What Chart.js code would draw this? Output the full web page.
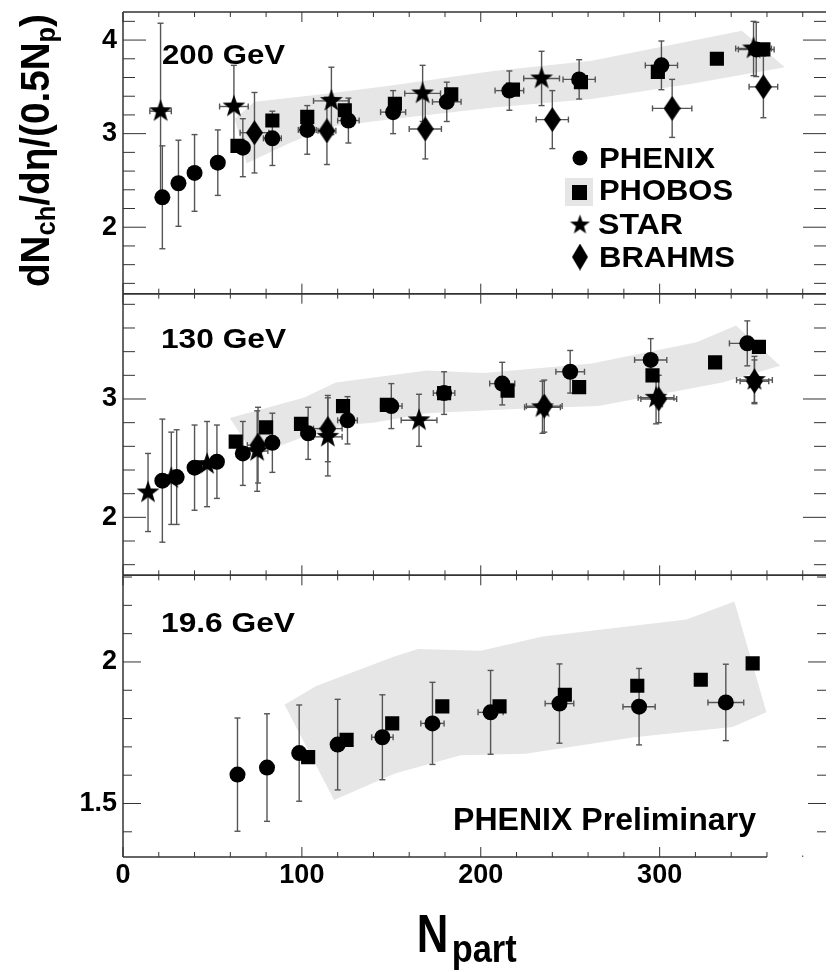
<!DOCTYPE html>
<html>
<head>
<meta charset="utf-8">
<script src="https://cdn.jsdelivr.net/npm/chart.js@4/dist/chart.umd.min.js"></script>
<style>
html,body{margin:0;padding:0;background:#fff;}
#wrap{width:838px;height:972px;position:relative;}
</style>
</head>
<body>
<div id="wrap"><canvas id="c" width="838" height="972"></canvas></div>
<script>
// ---------------- tick labels ----------------
const xMajorTicks = [0, 100, 200, 300];
const yTicks200 = [2, 3, 4];
const yTicks130 = [2, 3];
const yTicks19 = [1.5, 2];

// ---------------- 200 GeV ----------------
const phenix200_npart = [22, 31, 40, 53, 67, 83.5, 103, 126, 151, 181, 216, 255, 301, 354];
const phenix200_val   = [2.32, 2.47, 2.58, 2.69, 2.85, 2.95, 3.04, 3.14, 3.23, 3.34, 3.46, 3.58, 3.73, 3.90];
const phenix200_errY  = [0.55, 0.46, 0.41, 0.35, 0.31, 0.29, 0.26, 0.24, 0.23, 0.21, 0.21, 0.21, 0.26, 0.29];
const phenix200_errX  = [0, 0, 0, 0, 0, 5, 5, 6, 7, 8, 8, 9, 9, 10];

const phobos200_npart = [64, 83.5, 103, 124, 152, 183.5, 218, 256, 299, 332, 358];
const phobos200_val   = [2.87, 3.14, 3.18, 3.25, 3.32, 3.42, 3.47, 3.55, 3.66, 3.80, 3.90];

const star200_npart = [21, 62, 116.5, 167.5, 234, 352.5];
const star200_val   = [3.24, 3.29, 3.35, 3.43, 3.59, 3.91];
const star200_errY  = [0.94, 0.44, 0.36, 0.30, 0.29, 0.29];
const star200_errX  = [6, 8, 10, 10, 10, 10];

const brahms200_npart = [73.5, 114, 169, 240, 307, 358];
const brahms200_val   = [3.01, 3.03, 3.05, 3.15, 3.27, 3.50];
const brahms200_errY  = [0.43, 0.36, 0.32, 0.31, 0.31, 0.33];
const brahms200_errX  = [8, 5, 9, 9, 11, 8];

const band200_npart = [62.5, 73.5, 115, 152, 207, 262, 346, 370, 317, 262, 207, 152, 115, 92, 69];
const band200_val   = [3.16, 3.34, 3.43, 3.52, 3.67, 3.78, 4.10, 3.71, 3.53, 3.37, 3.28, 3.16, 3.07, 2.89, 2.68];

// ---------------- 130 GeV ----------------
const phenix130_npart = [22, 30, 40, 52.5, 67, 83.5, 103.5, 125.5, 150, 179.5, 212, 250, 295, 349];
const phenix130_val   = [2.31, 2.34, 2.42, 2.47, 2.54, 2.63, 2.71, 2.82, 2.94, 3.05, 3.13, 3.23, 3.33, 3.47];
const phenix130_errY  = [0.52, 0.40, 0.36, 0.31, 0.27, 0.25, 0.22, 0.20, 0.19, 0.18, 0.18, 0.18, 0.18, 0.19];
const phenix130_errX  = [0, 0, 0, 0, 0, 0, 4, 5.5, 6, 6, 7, 8, 9, 10];

const phobos130_npart = [63, 80, 99.5, 123, 147.5, 179.5, 215, 255, 296, 331, 355.5];
const phobos130_val   = [2.64, 2.76, 2.79, 2.94, 2.95, 3.05, 3.07, 3.10, 3.20, 3.31, 3.44];

const star130_npart = [14, 27, 47, 75, 114.5, 165.5, 234.5, 298, 353];
const star130_val   = [2.21, 2.33, 2.45, 2.56, 2.68, 2.82, 2.93, 3.01, 3.16];
const star130_errY  = [0.33, 0.39, 0.36, 0.34, 0.33, 0.22, 0.22, 0.22, 0.20];
const star130_errX  = [0, 0, 0, 6, 8, 10, 10, 10, 10];

const brahms130_npart = [75.5, 114.5, 235.5, 299.5, 353];
const brahms130_val   = [2.61, 2.75, 2.94, 3.00, 3.15];
const brahms130_errY  = [0.32, 0.28, 0.22, 0.20, 0.18];
const brahms130_errX  = [6, 8, 10, 10, 8];

const band130_npart = [59.7, 101, 119, 170, 201.6, 262, 320.7, 342.7, 367.4, 335, 265.8, 225, 170, 140, 123, 101, 73.5];
const band130_val   = [2.84, 3.01, 3.14, 3.24, 3.22, 3.30, 3.48, 3.62, 3.28, 3.14, 2.94, 2.92, 2.88, 2.80, 2.78, 2.68, 2.52];

// ---------------- 19.6 GeV ----------------
const phenix19_npart = [64, 80.5, 98.5, 120, 145, 173, 205.5, 244, 288.5, 337];
const phenix19_val   = [1.602, 1.627, 1.678, 1.708, 1.734, 1.783, 1.822, 1.853, 1.842, 1.857];
const phenix19_errY  = [0.20, 0.19, 0.17, 0.16, 0.15, 0.145, 0.148, 0.14, 0.135, 0.135];
const phenix19_errX  = [0, 0, 2, 3, 6, 6.5, 7, 8, 9, 10];

const phobos19_npart = [103.5, 125, 150.5, 178.5, 210.5, 247, 287.5, 323, 352];
const phobos19_val   = [1.664, 1.725, 1.783, 1.843, 1.843, 1.884, 1.916, 1.937, 1.995];

const band19_npart = [90.3, 108, 152, 165, 200, 234.6, 315, 341.8, 359.7, 340.7, 285.7, 225, 188.8, 152, 118];
const band19_val   = [1.849, 1.915, 2.02, 2.046, 2.04, 2.09, 2.15, 2.214, 1.822, 1.77, 1.734, 1.676, 1.67, 1.606, 1.512];

// ---------------- styling / drawing ----------------
const FONT = '"Liberation Sans", Arial, Helvetica, sans-serif';
const BAND_COLOR = '#e6e6e6';

function makeStar(outer, inner) {
  const s = Math.ceil(outer * 2 + 2);
  const c = document.createElement('canvas'); c.width = s; c.height = s;
  const g = c.getContext('2d'); g.fillStyle = '#000'; g.beginPath();
  for (let k = 0; k < 10; k++) {
    const a = -Math.PI / 2 + k * Math.PI / 5, r = k % 2 ? inner : outer;
    const px = s / 2 + r * Math.cos(a), py = s / 2 + r * Math.sin(a);
    k ? g.lineTo(px, py) : g.moveTo(px, py);
  }
  g.closePath(); g.fill();
  return c;
}
function makeDiamond(w, h) {
  const c = document.createElement('canvas'); c.width = w; c.height = h;
  const g = c.getContext('2d'); g.fillStyle = '#000'; g.beginPath();
  g.moveTo(w / 2, 0); g.lineTo(w, h / 2); g.lineTo(w / 2, h); g.lineTo(0, h / 2); g.closePath(); g.fill();
  return c;
}
const starImg = makeStar(12, 4.8);
const diamondImg = makeDiamond(17, 25);

const STYLE = {
  circle: { pointStyle: 'circle', pointRadius: 8, backgroundColor: '#000', borderColor: '#000', borderWidth: 0 },
  square: { pointStyle: 'rect', pointRadius: 10, backgroundColor: '#000', borderColor: '#000', borderWidth: 0 },
  star: { pointStyle: starImg, pointRadius: 12, backgroundColor: '#000', borderColor: '#000', borderWidth: 0 },
  diamond: { pointStyle: diamondImg, pointRadius: 12, backgroundColor: '#000', borderColor: '#000', borderWidth: 0 }
};

function series(label, axis, xs, ys, ey, ex, style) {
  return Object.assign({
    label, yAxisID: axis, xAxisID: 'x',
    data: xs.map((x, i) => ({ x, y: ys[i] })),
    errY: ey || null, errX: ex || null, showLine: false
  }, STYLE[style]);
}

const datasets = [
  series('PHENIX 200', 'y200', phenix200_npart, phenix200_val, phenix200_errY, phenix200_errX, 'circle'),
  series('PHENIX 130', 'y130', phenix130_npart, phenix130_val, phenix130_errY, phenix130_errX, 'circle'),
  series('PHENIX 19.6', 'y19', phenix19_npart, phenix19_val, phenix19_errY, phenix19_errX, 'circle'),
  series('PHOBOS 200', 'y200', phobos200_npart, phobos200_val, null, null, 'square'),
  series('PHOBOS 130', 'y130', phobos130_npart, phobos130_val, null, null, 'square'),
  series('PHOBOS 19.6', 'y19', phobos19_npart, phobos19_val, null, null, 'square'),
  series('STAR 200', 'y200', star200_npart, star200_val, star200_errY, star200_errX, 'star'),
  series('STAR 130', 'y130', star130_npart, star130_val, star130_errY, star130_errX, 'star'),
  series('BRAHMS 200', 'y200', brahms200_npart, brahms200_val, brahms200_errY, brahms200_errX, 'diamond'),
  series('BRAHMS 130', 'y130', brahms130_npart, brahms130_val, brahms130_errY, brahms130_errX, 'diamond')
];

const bands = [
  { axis: 'y200', x: band200_npart, y: band200_val },
  { axis: 'y130', x: band130_npart, y: band130_val },
  { axis: 'y19', x: band19_npart, y: band19_val }
];

const panels = [
  { axis: 'y200', minor: 0.2, major: 1, majLen: 23, minLen: 12, last: false },
  { axis: 'y130', minor: 0.2, major: 1, majLen: 23, minLen: 12, last: false },
  { axis: 'y19', minor: 0.1, major: 0.5, majLen: 18, minLen: 9, last: true }
];

function line(ctx, x0, y0, x1, y1) { ctx.beginPath(); ctx.moveTo(x0, y0); ctx.lineTo(x1, y1); ctx.stroke(); }

function drawFit(ctx, txt, x, y, size, w) {
  ctx.save();
  ctx.font = `bold ${size}px ${FONT}`;
  ctx.textAlign = 'left'; ctx.textBaseline = 'alphabetic'; ctx.fillStyle = '#000';
  const m = ctx.measureText(txt).width;
  ctx.translate(x, y); ctx.scale(w / m, 1); ctx.fillText(txt, 0, 0);
  ctx.restore();
}

const panelPlugin = {
  id: 'panels',
  beforeDatasetsDraw(chart) {
    const ctx = chart.ctx, xs = chart.scales.x;
    bands.forEach(b => {
      const ys = chart.scales[b.axis];
      ctx.save(); ctx.fillStyle = BAND_COLOR; ctx.beginPath();
      b.x.forEach((v, i) => {
        const px = xs.getPixelForValue(v), py = ys.getPixelForValue(b.y[i]);
        i ? ctx.lineTo(px, py) : ctx.moveTo(px, py);
      });
      ctx.closePath(); ctx.fill(); ctx.restore();
    });
    chart.data.datasets.forEach(ds => {
      if (!ds.errY && !ds.errX) return;
      const ys = chart.scales[ds.yAxisID];
      ctx.save(); ctx.strokeStyle = '#555'; ctx.lineWidth = 1.4;
      ds.data.forEach((p, i) => {
        const px = xs.getPixelForValue(p.x), py = ys.getPixelForValue(p.y);
        const ey = ds.errY ? ds.errY[i] : 0, ex = ds.errX ? ds.errX[i] : 0;
        if (ey > 0) {
          const y0 = ys.getPixelForValue(p.y - ey), y1 = ys.getPixelForValue(p.y + ey);
          line(ctx, px, y0, px, y1);
          line(ctx, px - 3, y0, px + 3, y0); line(ctx, px - 3, y1, px + 3, y1);
        }
        if (ex > 0) {
          const x0 = xs.getPixelForValue(p.x - ex), x1 = xs.getPixelForValue(p.x + ex);
          line(ctx, x0, py, x1, py);
          line(ctx, x0, py - 3, x0, py + 3); line(ctx, x1, py - 3, x1, py + 3);
        }
      });
      ctx.restore();
    });
  },
  afterDraw(chart) {
    const ctx = chart.ctx, xs = chart.scales.x;
    const L = chart.chartArea.left, R = chart.chartArea.right;
    ctx.save();
    ctx.strokeStyle = '#333';
    panels.forEach(pn => {
      const ys = chart.scales[pn.axis];
      const T = ys.top, B = ys.bottom;
      ctx.lineWidth = 1.5;
      const bottomEnd = pn.last ? xs.getPixelForValue(360) : R;
      line(ctx, L, T, L, B);
      line(ctx, L, T, R, T);
      line(ctx, L, B, bottomEnd, B);
      ctx.lineWidth = 1;
      for (let v = 0; v <= xs.max; v += 20) {
        const px = xs.getPixelForValue(v);
        const len = v % 100 === 0 ? 10 : 5;
        if (!pn.last || v <= 360) line(ctx, px, B, px, B - len);
        else line(ctx, px, B, px, B - 1.5);
        line(ctx, px, T, px, T + len);
      }
      const k0 = Math.ceil(ys.min / pn.minor - 1e-9);
      for (let k = k0; k * pn.minor <= ys.max + 1e-9; k++) {
        const v = k * pn.minor;
        const r = v / pn.major;
        const major = Math.abs(r - Math.round(r)) < 1e-6;
        const py = ys.getPixelForValue(v);
        const len = major ? pn.majLen : pn.minLen;
        line(ctx, L, py, L + len, py);
        line(ctx, R, py, R - len, py);
      }
    });
    ctx.restore();

    drawFit(ctx, '200 GeV', 162, 64, 28, 123);
    drawFit(ctx, '130 GeV', 161, 348, 28, 125);
    drawFit(ctx, '19.6 GeV', 161, 632, 28, 134);
    drawFit(ctx, 'PHENIX Preliminary', 453, 830, 31, 303);

    ctx.save();
    ctx.fillStyle = '#000';
    ctx.beginPath(); ctx.arc(580, 158, 7.5, 0, Math.PI * 2); ctx.fill();
    ctx.fillStyle = BAND_COLOR; ctx.fillRect(565, 178, 28, 28);
    ctx.fillStyle = '#000'; ctx.fillRect(572, 185, 15, 15);
    ctx.drawImage(makeStar(10.5, 4.2), 580 - 11.5, 225 - 11.5);
    ctx.drawImage(makeDiamond(16, 27), 580 - 8, 257 - 13.5);
    ctx.restore();
    drawFit(ctx, 'PHENIX', 599, 168, 30, 116);
    drawFit(ctx, 'PHOBOS', 599, 200, 30, 134);
    drawFit(ctx, 'STAR', 598, 234, 30, 85);
    drawFit(ctx, 'BRAHMS', 599, 267, 30, 136);

    ctx.save();
    ctx.translate(49, 287); ctx.rotate(-Math.PI / 2);
    ctx.fillStyle = '#000'; ctx.textBaseline = 'alphabetic'; ctx.textAlign = 'left';
    const parts = [['dN', 41, 0], ['ch', 27, 6], ['/d\u03B7/(0.5N', 41, 0], ['p', 27, 6], [')', 41, 0]];
    let total = 0;
    parts.forEach(p => { ctx.font = `bold ${p[1]}px ${FONT}`; p.push(ctx.measureText(p[0]).width); total += p[3]; });
    ctx.scale(273 / total, 1);
    let cx = 0;
    parts.forEach(p => { ctx.font = `bold ${p[1]}px ${FONT}`; ctx.fillText(p[0], cx, p[2]); cx += p[3]; });
    ctx.restore();

    drawFit(ctx, 'N', 416.7, 951.7, 53, 31.6);
    drawFit(ctx, 'part', 451.7, 961.7, 38, 65);
  }
};

function yScale(min, max, ticks, weight) {
  return {
    type: 'linear', position: 'left', stack: 'panels', stackWeight: 1, weight,
    min, max, offset: false,
    grid: { display: false, drawTicks: false }, border: { display: false },
    ticks: { color: '#000', font: { family: FONT, size: 27, weight: 'bold' }, padding: 6, autoSkip: false,
             callback: v => String(v) },
    afterBuildTicks: s => { s.ticks = ticks.map(v => ({ value: v })); },
    afterFit: s => { s.width = 123; s.paddingTop = 0; s.paddingBottom = 0; s.paddingLeft = 0; s.paddingRight = 0; }
  };
}

new Chart(document.getElementById('c'), {
  type: 'scatter',
  data: { datasets },
  options: {
    responsive: false, animation: false, devicePixelRatio: 1, events: [],
    layout: { padding: { top: 8, right: 0, bottom: 0, left: 0 } },
    plugins: { legend: { display: false }, tooltip: { enabled: false } },
    scales: {
      x: {
        type: 'linear', position: 'bottom', min: 0, max: 393, offset: false,
        grid: { display: false, drawTicks: false }, border: { display: false },
        ticks: { color: '#000', font: { family: FONT, size: 27, weight: 'bold' }, padding: 2, maxRotation: 0, autoSkip: false,
                 callback: v => String(v) },
        afterBuildTicks: s => { s.ticks = xMajorTicks.map(v => ({ value: v })); },
        afterFit: s => { s.height = 115; s.paddingTop = 0; s.paddingBottom = 0; s.paddingLeft = 0; s.paddingRight = 0; }
      },
      y200: yScale(1.29, 4.30, yTicks200, 3),
      y130: yScale(1.51, 3.89, yTicks130, 2),
      y19: yScale(1.311, 2.306, yTicks19, 1)
    }
  },
  plugins: [panelPlugin]
});
</script>
</body>
</html>
